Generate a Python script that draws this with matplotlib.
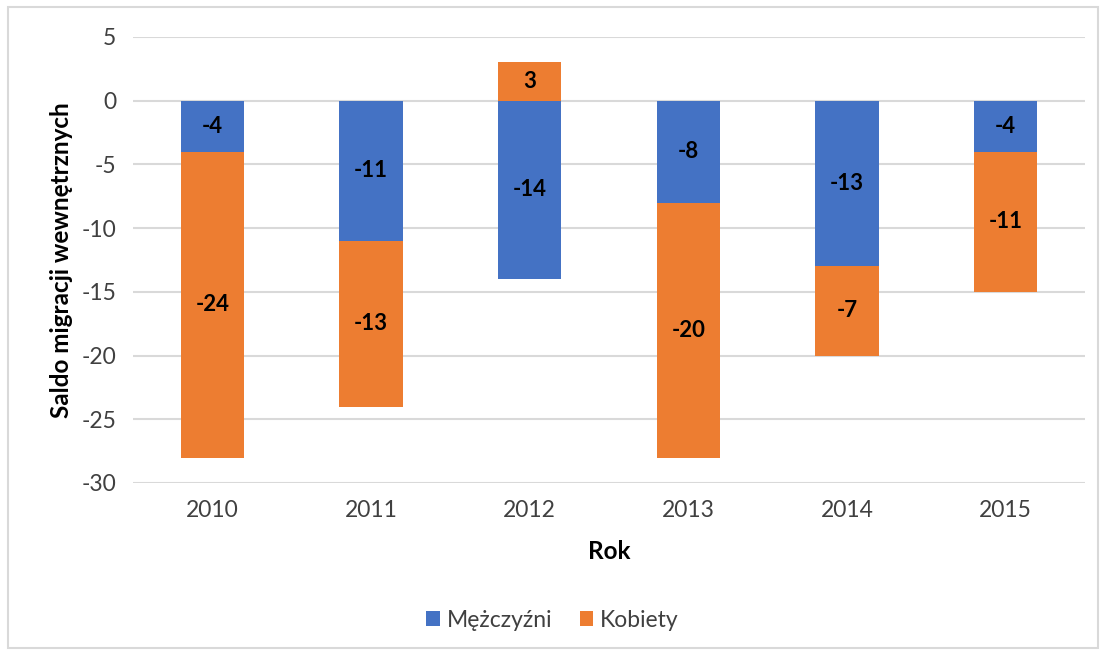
import numpy as np
import matplotlib.pyplot as plt
from matplotlib.patches import Rectangle

years = ["2010", "2011", "2012", "2013", "2014", "2015"]
men = [-4, -11, -14, -8, -13, -4]
women = [-24, -13, 3, -20, -7, -11]

plt.rcParams['font.family'] = ['Lato', 'DejaVu Sans']
plt.rcParams['axes.unicode_minus'] = False

fig = plt.figure(figsize=(11.05, 6.55), dpi=100)
ax = fig.add_axes([0.1204, 0.2626, 0.8615, 0.681])

x = np.arange(len(years))
w = 0.4
blue = "#4472C4"
orange = "#ED7D31"

ax.bar(x, men, w, color=blue, label="Mężczyźni", zorder=3)
# Excel stacks negatives under negatives, positives from zero
bottoms = [m if wv < 0 else 0 for m, wv in zip(men, women)]
ax.bar(x, women, w, bottom=bottoms, color=orange, label="Kobiety", zorder=3)

for i in range(len(years)):
    ax.text(x[i], men[i] / 2, str(men[i]), ha="center", va="center",
            fontsize=16, fontweight="bold", color="black", zorder=4)
    ax.text(x[i], bottoms[i] + women[i] / 2, str(women[i]), ha="center", va="center",
            fontsize=16, fontweight="bold", color="black", zorder=4)

ax.set_xlim(-0.5, len(years) - 0.5)
ax.set_ylim(-30, 5)
ax.set_yticks(range(-30, 6, 5))
ax.set_xticks(x)
ax.set_xticklabels(years)
ax.tick_params(axis="both", length=0, labelsize=16.5, colors="#404040")
ax.tick_params(axis="y", pad=12)
ax.tick_params(axis="x", pad=12)
ax.grid(axis="y", color="#d9d9d9", linewidth=1.5, zorder=0)
for s in ax.spines.values():
    s.set_visible(False)

ax.set_xlabel("Rok", fontsize=17.5, fontweight="bold", labelpad=14)
ax.set_ylabel("Saldo migracji wewnętrznych", fontsize=17.5, fontweight="bold", labelpad=6)

ax.legend(loc="center", bbox_to_anchor=(0.5, 0.0530), bbox_transform=fig.transFigure,
          ncol=2, frameon=False, fontsize=16.5, handlelength=0.6, handleheight=0.6,
          handletextpad=0.3, columnspacing=1.2, labelcolor="#404040")

fig.patches.append(Rectangle((8 / 1105, 7 / 655), 1090 / 1105, 641 / 655,
                             transform=fig.transFigure, fill=False,
                             edgecolor="#d9d9d9", linewidth=1.5))

fig.savefig("out.png", dpi=100)
